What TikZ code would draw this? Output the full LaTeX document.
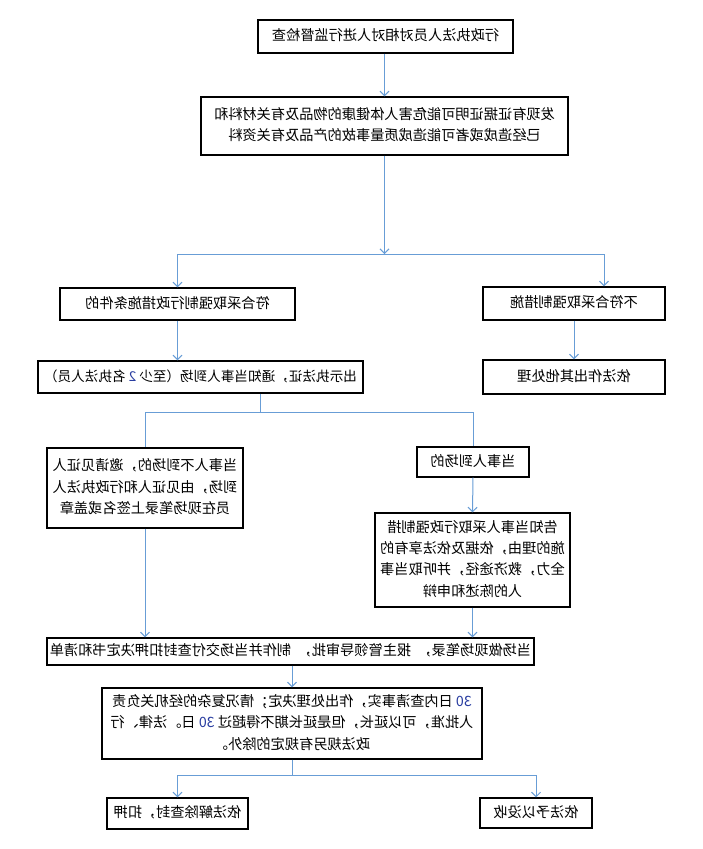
\documentclass[tikz,border=0pt]{standalone}
\usepackage{fontspec}
\usepackage{graphicx}
\newfontfamily\cjk{Noto Sans CJK SC}
\usetikzlibrary{arrows.meta}
\definecolor{linkblue}{RGB}{104,157,214}
\definecolor{numblue}{RGB}{40,60,160}
\newcommand\mtext[1]{\reflectbox{\begin{tabular}{@{}c@{}}#1\end{tabular}}}
\newcommand\num[1]{\textcolor{numblue}{#1}}
\tikzset{
  box/.style={draw=black, line width=1.2pt, inner sep=0pt, align=center,
    font=\cjk\fontsize{14.2}{21.3}\selectfont},
  arr/.style={draw=linkblue, line width=1pt, -{Straight Barb[length=4.5pt,width=9pt]}},
  link/.style={draw=linkblue, line width=1pt}
}
\begin{document}
\begin{tikzpicture}[x=1pt,y=-1pt]
\useasboundingbox[fill=white] (0,0) rectangle (703,849);

\node[box, minimum width=255, minimum height=33] (n1) at (385.5,36.5)
  {\mtext{行政执法人员对相对人进行监督检查}};
\node[box, minimum width=367, minimum height=58] (n2) at (384.5,126)
  {\mtext{发现有证据证明可能危害人体健康的物品及有关材料和\\已经造成或者可能造成质量事故的产品及有关资料}};
\node[box, minimum width=235, minimum height=32] (n3) at (177.5,304)
  {\mtext{符合采取强制行政措施条件的}};
\node[box, minimum width=182, minimum height=33] (n4) at (574,303.5)
  {\mtext{不符合采取强制措施}};
\node[box, minimum width=325, minimum height=32, font=\cjk\fontsize{13.6}{21}\selectfont] (n5) at (200.5,377)
  {\mtext{出示执法证，通知当事人到场（至少 \num{2} 名执法人员）}};
\node[box, minimum width=182, minimum height=34] (n6) at (574,377)
  {\mtext{依法作出其他处理}};
\node[box, minimum width=196, minimum height=80] (n7) at (145,488)
  {\mtext{当事人不到场的，邀请见证人\\到场，由见证人和行政执法人\\员在现场笔录上签名或盖章}};
\node[box, minimum width=112, minimum height=30] (n8) at (473,462)
  {\mtext{当事人到场的}};
\node[box, minimum width=195, minimum height=94] (n9) at (472.5,560)
  {\mtext{告知当事人采取行政强制措\\施的理由，依据及依法享有的\\全力，救济途径，并听取当事\\人的陈述和申辩}};
\node[box, minimum width=487, minimum height=27] (n10) at (290.5,651.5)
  {\mtext{当场做现场笔录，\hspace{0.45em}报主管领导审批，\hspace{0.45em}制作并当场交付查封扣押决定书和清单}};
\node[box, minimum width=380, minimum height=71] (n11) at (292,723.5)
  {\mtext{\num{30} 日内查清事实，作出处理决定；情况复杂的经机关负责\\人批准，可以延长，但是延长期不得超过 \num{30} 日。法律、行\\政法规另有规定的除外。}};
\node[box, minimum width=141, minimum height=31] (n12) at (177.5,813.5)
  {\mtext{依法解除查封，扣押}};
\node[box, minimum width=112, minimum height=30] (n13) at (536,813)
  {\mtext{依法予以没收}};

% branch points
\coordinate (b1) at (384.5,254);
\coordinate (b1l) at (177.5,254);
\coordinate (b1r) at (604,254);
\coordinate (b2) at (260,412);
\coordinate (b2l) at (145,412);
\coordinate (b2r) at (473,412);
\coordinate (b3) at (292,775);
\coordinate (b3l) at (177.5,775);
\coordinate (b3r) at (536,775);

\draw[arr] (n1.south -| n2.north) -- (n2.north);
\draw[arr] (n2.south) -- (b1);
\draw[link] (b1l) -- (b1r);
\draw[arr] (b1l) -- (n3.north);
\draw[arr] (b1r) -- (b1r |- n4.north);
\draw[arr] (n3.south) -- (n5.north -| n3.south);
\draw[arr] (n4.south) -- (n6.north);
\draw[link] (b2 |- n5.south) -- (b2);
\draw[link] (b2l) -- (b2r);
\draw[link] (b2l) -- (n7.north);
\draw[link] (b2r) -- (n8.north);
\draw[arr] (n8.south) -- (n9.north);
\draw[arr] (n7.south) -- (n7.south |- n10.north);
\draw[arr] (n9.south) -- (n9.south |- n10.north);
\draw[arr] (n11.north |- n10.south) -- (n11.north);
\draw[link] (n11.south) -- (b3);
\draw[link] (b3l) -- (b3r);
\draw[arr] (b3l) -- (n12.north);
\draw[arr] (b3r) -- (n13.north);
\end{tikzpicture}
\end{document}
